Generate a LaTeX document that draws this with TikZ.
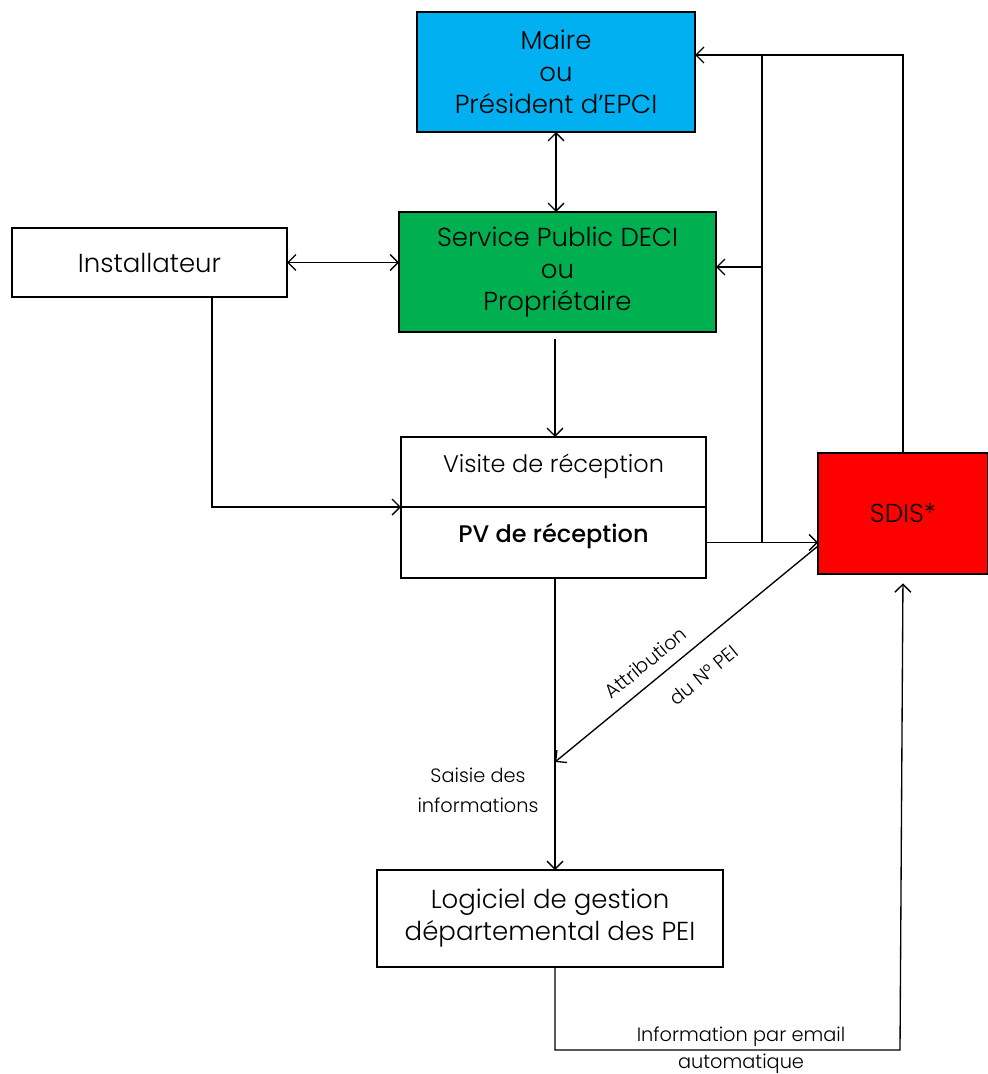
\documentclass[tikz,border=0pt]{standalone}
\usepackage{fontspec}
\setmainfont{Poppins}[UprightFont=* Light, BoldFont=* Medium]
\usetikzlibrary{positioning, arrows.meta}

\definecolor{mairebleu}{HTML}{00B0F0}
\definecolor{servicevert}{HTML}{00B050}
\definecolor{sdisrouge}{HTML}{FF0000}

\tikzset{
  box/.style={draw, line width=1pt, align=center, inner sep=2pt, outer sep=0pt},
  bigtext/.style={font=\fontsize{19.5}{24}\selectfont},
  midtext/.style={font=\fontsize{18}{22}\selectfont},
  smalltext/.style={font=\fontsize{14.5}{21}\selectfont},
  link/.style={line width=1pt},
  >={Straight Barb[length=6pt,width=12pt]}
}

\begin{document}
\begin{tikzpicture}[x=0.75pt, y=-0.75pt]
  \useasboundingbox (0,0) rectangle (988,1074);

  %boxes
  \node[box, bigtext, fill=mairebleu, minimum width=208.5pt, minimum height=90pt]
    (maire) at (556,72) {Maire\\ou\\Président d’EPCI};
  \node[box, bigtext, fill=servicevert, minimum width=237.75pt, minimum height=90pt]
    (service) at (557.5,272) {Service Public DECI\\ou\\Propriétaire};
  \node[box, bigtext, minimum width=206.25pt, minimum height=51.75pt]
    (inst) at (149.5,262.5) {Installateur};
  \node[box, midtext, minimum width=228.75pt, minimum height=52.5pt]
    (visite) at (553.5,472) {Visite de réception\\[-8.5pt]};
  \node[box, midtext, minimum width=228.75pt, minimum height=53.25pt, below=0pt of visite]
    (pv) {\textbf{PV de réception}\\[-8pt]};
  \node[box, bigtext, fill=sdisrouge, minimum width=127.5pt, minimum height=90.75pt]
    (sdis) at (903,513.5) {SDIS*};
  \node[box, bigtext, minimum width=259.5pt, minimum height=72.75pt]
    (logiciel) at (550,918.5) {Logiciel de gestion\\départemental des PEI};

  %junctions
  \coordinate (jtop) at (762,55);
  \coordinate (jmid) at (762,267);
  \coordinate (jbot) at (762,543);
  \coordinate (sdistop) at (903,55);
  \coordinate (instdown) at (212,297);
  \coordinate (diagtop) at (818,546);
  \coordinate (saisie) at (555,762);
  \coordinate (bl) at (555,1050);
  \coordinate (br) at (900,1050);

  %arrows
  \draw[link, <->] (maire.south) -- (service.north -| maire.south);
  \draw[link, <->] (inst.east) -- (service.west |- inst.east);
  \draw[link, ->, shorten <=5pt] (service.south -| saisie) -- (visite.north -| saisie);
  \draw[link, ->] (instdown) |- (pv.north west);
  \draw[link, ->] (pv.east) -- (sdis.west |- pv.east);
  \draw[link] (jbot) -- (jtop);
  \draw[link, ->] (sdis.north) -- (sdistop) -- (maire.east |- jtop);
  \draw[link, ->] (jmid) -- (service.east |- jmid);
  \draw[link, ->] (pv.south -| saisie) -- (logiciel.north -| saisie);
  \draw[link, ->] (diagtop) -- (saisie)
    node[smalltext, pos=0.61, sloped, above=5pt] (attrib) {Attribution}
    node[smalltext, pos=0.5, sloped, below=11pt] (numpei) {du N° PEI};
  \draw[link, ->, shorten >=7pt] (logiciel.south -| saisie) -- (bl) -- (br) -- (sdis.south);

  %labels
  \node[smalltext, align=center, font=\fontsize{14.5}{22.5}\selectfont] (saisielbl) at (478,790) {Saisie des\\informations};
  \node[smalltext, align=center, font=\fontsize{14.5}{20}\selectfont] (infolbl) at (741,1050) {Information par email\\automatique};
\end{tikzpicture}
\end{document}
